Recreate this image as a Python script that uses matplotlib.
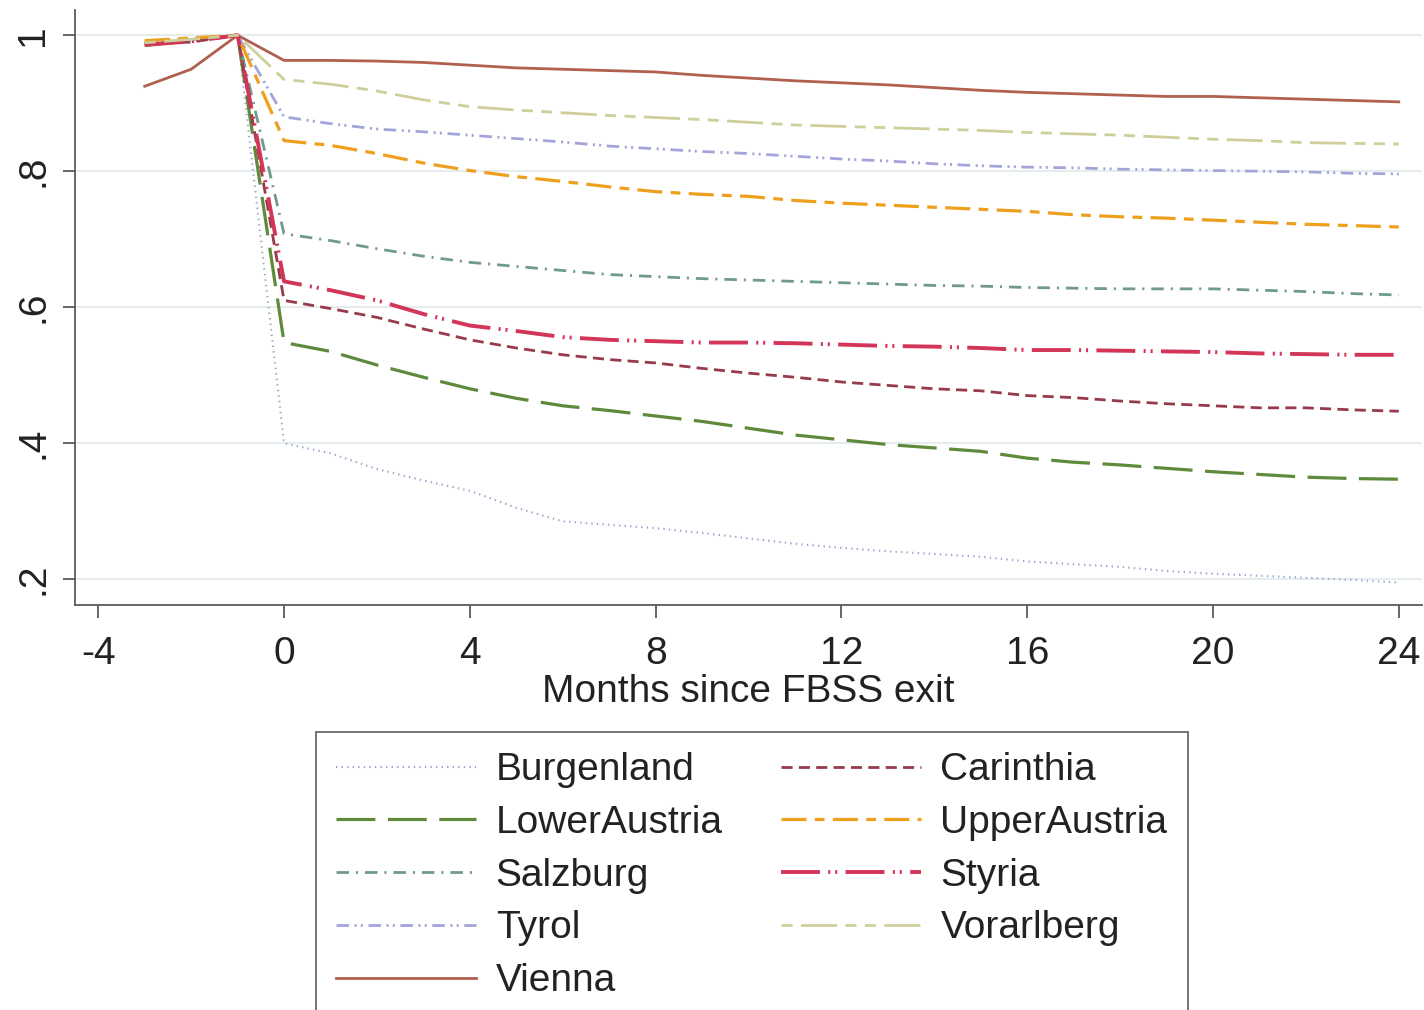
import numpy as np
import matplotlib.pyplot as plt

plt.rcParams['font.family'] = ['Liberation Sans', 'DejaVu Sans']
plt.rcParams['lines.scale_dashes'] = False
plt.rcParams['axes.unicode_minus'] = False

# ---------------------------------------------------------------------
# data: share still employed, months -3 .. 24 around FBSS exit
# ---------------------------------------------------------------------
months = list(range(-3, 25))

burgenland = [0.990, 0.993, 1.000, 0.400, 0.385, 0.362, 0.345, 0.330, 0.305, 0.285,
              0.280, 0.275, 0.268, 0.260, 0.252, 0.246, 0.241, 0.237, 0.233, 0.226,
              0.222, 0.218, 0.212, 0.208, 0.205, 0.202, 0.199, 0.195]
lower_austria = [0.985, 0.992, 1.000, 0.548, 0.535, 0.515, 0.497, 0.480, 0.466, 0.455,
                 0.448, 0.440, 0.432, 0.422, 0.412, 0.405, 0.398, 0.393, 0.388, 0.378,
                 0.372, 0.368, 0.363, 0.358, 0.354, 0.350, 0.348, 0.347]
salzburg = [0.988, 0.993, 1.000, 0.708, 0.698, 0.686, 0.675, 0.666, 0.660, 0.654,
            0.648, 0.645, 0.642, 0.640, 0.638, 0.636, 0.634, 0.632, 0.631, 0.629,
            0.628, 0.627, 0.627, 0.627, 0.625, 0.623, 0.620, 0.618]
tyrol = [0.990, 0.995, 1.000, 0.880, 0.870, 0.862, 0.858, 0.853, 0.848, 0.843,
         0.837, 0.833, 0.829, 0.826, 0.822, 0.818, 0.815, 0.811, 0.808, 0.806,
         0.805, 0.803, 0.802, 0.801, 0.800, 0.799, 0.797, 0.796]
vienna = [0.925, 0.950, 1.000, 0.963, 0.963, 0.962, 0.960, 0.956, 0.952, 0.950,
          0.948, 0.946, 0.941, 0.937, 0.933, 0.930, 0.927, 0.923, 0.919, 0.916,
          0.914, 0.912, 0.910, 0.910, 0.908, 0.906, 0.904, 0.902]
carinthia = [0.987, 0.990, 1.000, 0.610, 0.598, 0.585, 0.568, 0.552, 0.540, 0.530,
             0.523, 0.518, 0.510, 0.503, 0.497, 0.490, 0.485, 0.480, 0.477, 0.470,
             0.467, 0.462, 0.458, 0.455, 0.452, 0.452, 0.449, 0.447]
upper_austria = [0.992, 0.996, 1.000, 0.845, 0.838, 0.826, 0.812, 0.801, 0.792, 0.785,
                 0.777, 0.770, 0.766, 0.763, 0.757, 0.753, 0.750, 0.747, 0.744, 0.741,
                 0.736, 0.733, 0.731, 0.728, 0.725, 0.722, 0.720, 0.718]
styria = [0.986, 0.991, 1.000, 0.638, 0.625, 0.610, 0.590, 0.573, 0.565, 0.556,
          0.552, 0.550, 0.548, 0.548, 0.547, 0.545, 0.543, 0.542, 0.540, 0.537,
          0.537, 0.536, 0.535, 0.534, 0.532, 0.531, 0.530, 0.530]
vorarlberg = [0.989, 0.994, 1.000, 0.935, 0.928, 0.918, 0.905, 0.895, 0.890, 0.886,
              0.882, 0.879, 0.876, 0.872, 0.868, 0.866, 0.864, 0.862, 0.860, 0.857,
              0.855, 0.853, 0.850, 0.847, 0.845, 0.842, 0.841, 0.840]

xticks = [-4, 0, 4, 8, 12, 16, 20, 24]
yticks = [0.2, 0.4, 0.6, 0.8, 1.0]
ytick_labels = [".2", ".4", ".6", ".8", "1"]

# legend order (column-major, two columns)
series = [
    ("Burgenland", burgenland, "#98a8c8", (0, (1.0, 3.0)), 1.5),
    ("LowerAustria", lower_austria, "#5f8a3c", (0, (28, 9)), 2.3),
    ("Salzburg", salzburg, "#6f9a8c", (0, (9, 5, 1.5, 5)), 2.0),
    ("Tyrol", tyrol, "#a4a4dc", (0, (9, 4, 1.5, 3, 1.5, 4)), 2.0),
    ("Vienna", vienna, "#b0604e", "-", 2.0),
    ("Carinthia", carinthia, "#973a4c", (0, (8, 4.5)), 2.0),
    ("UpperAustria", upper_austria, "#ee9f1e", (0, (18, 6, 7, 6)), 2.3),
    ("Styria", styria, "#d23558", (0, (28, 6, 1.5, 3.5, 1.5, 6)), 2.8),
    ("Vorarlberg", vorarlberg, "#cfcf9c", (0, (8, 6, 26, 6, 8, 6)), 2.0),
]

fig = plt.figure(figsize=(14.24, 10.10), dpi=100)
ax = fig.add_axes([0.0527, 0.401, 0.9459, 0.589])

for name, vals, col, ls, lw in series:
    ax.plot(months, vals, color=col, linestyle=ls, linewidth=lw, label=name)

ax.set_xlim(-4.5, 24.5)
ax.set_ylim(0.162, 1.037)
ax.set_xticks(xticks)
ax.set_yticks(yticks)
ax.set_yticklabels(ytick_labels, rotation=90, va="center")
ax.grid(axis="y", color="#e6ecee", linewidth=1.5)
ax.set_axisbelow(True)

for s in ["top", "right"]:
    ax.spines[s].set_visible(False)
for s in ["left", "bottom"]:
    ax.spines[s].set_color("#5a5a5a")
    ax.spines[s].set_linewidth(1.3)

ax.tick_params(axis="both", colors="#5a5a5a", labelcolor="#222222",
               labelsize=28, length=9, width=1.3)
ax.tick_params(axis="y", pad=8)
ax.tick_params(axis="x", pad=13)
ax.set_xlabel("Months since FBSS exit", fontsize=28, color="#222222", labelpad=2)

leg = fig.legend(loc="upper left", bbox_to_anchor=(316 / 1424, 1 - 732 / 1010),
                 ncol=2, fontsize=28, frameon=True, fancybox=False,
                 handlelength=3.6, handletextpad=0.5, columnspacing=1.5,
                 labelspacing=0.43, borderpad=0.52, borderaxespad=0)
leg.get_frame().set_edgecolor("#444444")
leg.get_frame().set_linewidth(1.3)
for t in leg.get_texts():
    t.set_color("#222222")

plt.savefig("out.png", dpi=100)
